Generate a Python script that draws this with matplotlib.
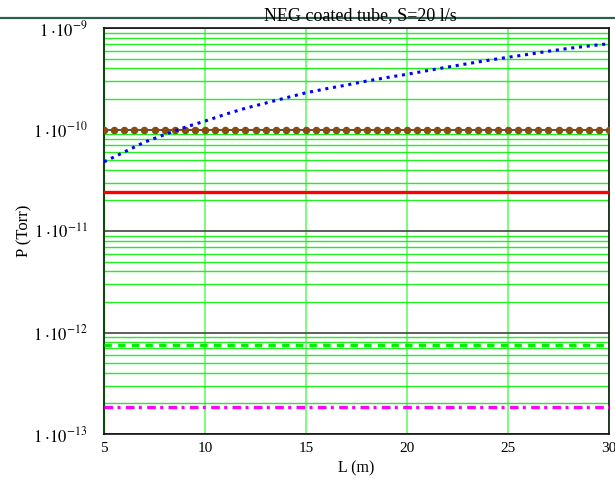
"""Pressure along a NEG coated tube (S = 20 l/s) for several gas species."""
import matplotlib
matplotlib.use("Agg")
import matplotlib.pyplot as plt
from matplotlib.lines import Line2D
import numpy as np

plt.rcParams["font.family"] = ["Liberation Serif", "DejaVu Serif"]
plt.rcParams["mathtext.fontset"] = "stix"

# tube length grid (m) for the sampled traces
L_BLUE = [5, 6, 7, 8, 9, 10, 11, 12, 13, 14, 15, 16, 17, 18, 19, 20,
          21, 22, 23, 24, 25, 26, 27, 28, 29, 30]
# rising profile (Torr)
P_BLUE = [4.8e-11, 6.0e-11, 7.5e-11, 8.9e-11, 1.05e-10, 1.21e-10, 1.41e-10,
          1.62e-10, 1.82e-10, 2.05e-10, 2.30e-10, 2.52e-10, 2.74e-10, 3.00e-10,
          3.25e-10, 3.50e-10, 3.80e-10, 4.12e-10, 4.45e-10, 4.80e-10, 5.15e-10,
          5.50e-10, 5.90e-10, 6.30e-10, 6.65e-10, 7.00e-10]

# flat profiles (Torr), sampled every 0.5 m
L_FLAT = np.arange(5.0, 30.01, 0.5)
P_BROWN = 1.0e-10
P_RED = 2.4e-11
P_GREEN = 7.5e-13
P_MAGENTA = 1.83e-13

Y_TICKS = [1e-13, 1e-12, 1e-11, 1e-10, 1e-9]
Y_LABELS = [r"$1\;{\cdot}10^{-13}$", r"$1\;{\cdot}10^{-12}$", r"$1\;{\cdot}10^{-11}$",
            r"$1\;{\cdot}10^{-10}$", r"$1\;{\cdot}10^{-9}$"]
X_TICKS = [5, 10, 15, 20, 25, 30]


def main():
    fig = plt.figure(figsize=(6.15, 4.79), dpi=100)
    ax = fig.add_axes([104 / 615, 1 - 434 / 479, 505 / 615, 406 / 479])
    ax.set_yscale("log")

    ax.plot(L_FLAT, np.full(L_FLAT.shape, P_BROWN), color="#555555", lw=1.5,
            marker="o", ms=4.4, mfc="#8B4A0F", mec="#8B4A0F", zorder=3)
    ax.plot(L_FLAT, np.full(L_FLAT.shape, P_RED), color="#ff0000", lw=2.4, zorder=3)
    ax.plot(L_FLAT, np.full(L_FLAT.shape, P_GREEN), color="#00ee00", lw=2.4,
            linestyle=(0, (2.2, 1.9)), zorder=3)
    ax.plot(L_FLAT, np.full(L_FLAT.shape, P_MAGENTA), color="#ff00ff", lw=2.4,
            linestyle=(0, (2.6, 1.3, 0.9, 1.6)), zorder=3)
    ax.plot(L_BLUE, P_BLUE, color="#0000ff", lw=2.2, linestyle=(0, (1, 1.55)),
            dash_capstyle="butt", zorder=4)

    ax.set_xlim(5, 30)
    ax.set_ylim(1e-13, 1e-9)
    ax.set_xticks(X_TICKS)
    ax.set_yticks(Y_TICKS)
    ax.set_yticklabels(Y_LABELS)
    ax.yaxis.set_minor_locator(matplotlib.ticker.LogLocator(base=10, subs=np.arange(2, 10)))
    ax.yaxis.set_minor_formatter(matplotlib.ticker.NullFormatter())
    ax.tick_params(which="both", length=0)
    ax.tick_params(axis="y", labelsize=12, pad=12)
    ax.tick_params(axis="x", labelsize=11, pad=6)

    ax.set_axisbelow(True)
    ax.xaxis.grid(True, which="major", color="#77ff77", lw=1.4)
    ax.yaxis.grid(True, which="major", color="#444444", lw=1.2)
    ax.yaxis.grid(True, which="minor", color="#22ee22", lw=1.0)

    for side in ("top", "bottom", "right"):
        ax.spines[side].set_color("#111111")
        ax.spines[side].set_linewidth(1.2)
    ax.spines["left"].set_color("#0d4a0d")
    ax.spines["left"].set_linewidth(1.5)

    ax.set_xlabel("L (m)", fontsize=11.5, labelpad=4)
    ax.set_ylabel("P (Torr)", fontsize=12)
    ax.yaxis.set_label_coords(-0.141, 0.5)

    # header rule with the title sitting on it
    fig.add_artist(Line2D([0, 1], [1 - 18 / 479] * 2, transform=fig.transFigure,
                          color="#2f5f50", lw=1.6))
    fig.text(360 / 615, 1 - 20.5 / 479, "NEG coated tube, S=20 l/s", fontsize=13,
             ha="center", va="baseline")

    fig.savefig("out.png", dpi=100)


if __name__ == "__main__":
    main()
